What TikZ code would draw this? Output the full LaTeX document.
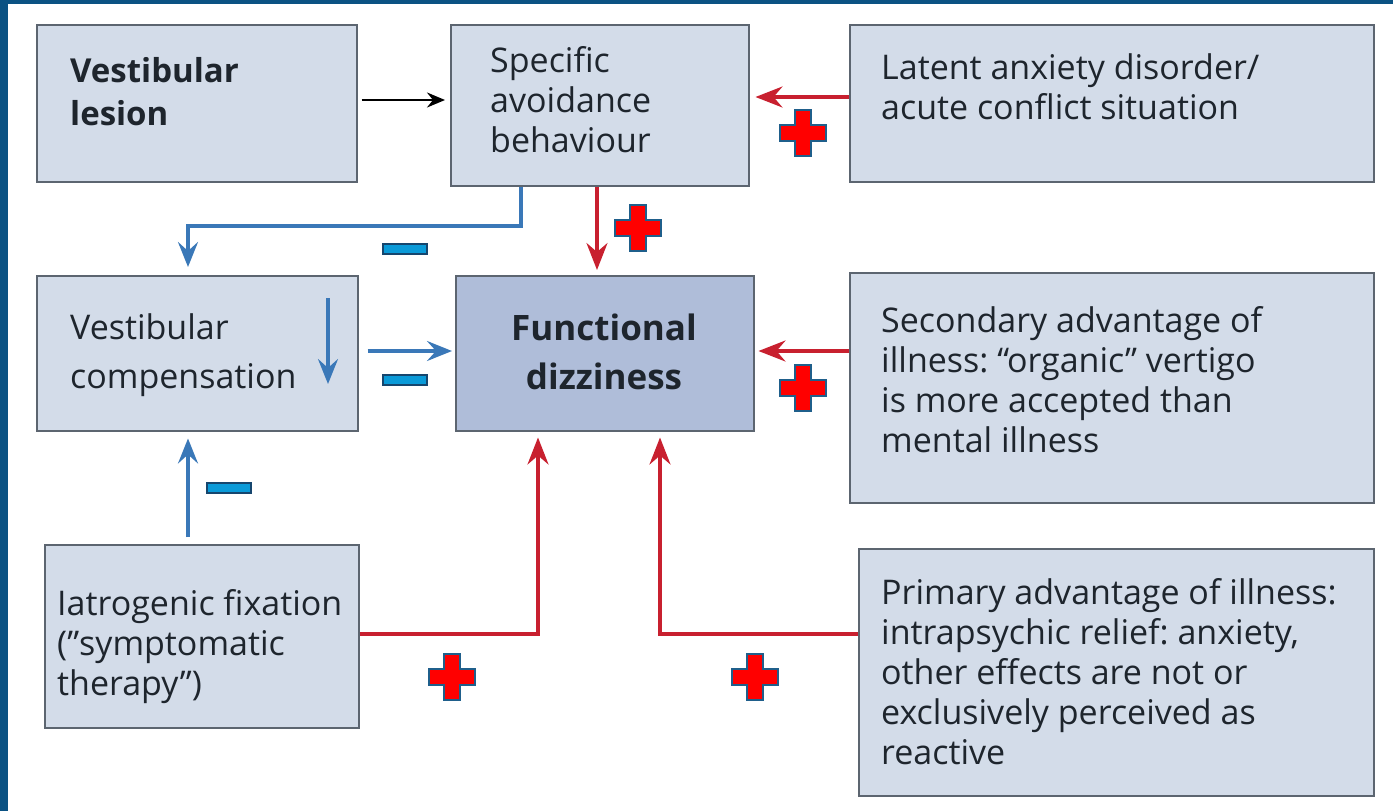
\documentclass[tikz,border=0pt]{standalone}
\usepackage{fontspec}
\setmainfont{Open Sans}
\frenchspacing
\usetikzlibrary{arrows.meta}
\definecolor{framec}{HTML}{0B5283}
\definecolor{boxfill}{HTML}{D3DCE9}
\definecolor{boxdraw}{HTML}{5C6570}
\definecolor{fdfill}{HTML}{AFBDD9}
\definecolor{redarr}{HTML}{C8202F}
\definecolor{bluarr}{HTML}{3A78B8}
\definecolor{txtc}{HTML}{1E252D}
\definecolor{plusred}{HTML}{FF0000}
\definecolor{plusedge}{HTML}{1F5F8B}
\definecolor{minusfill}{HTML}{0A9AD8}
\definecolor{minusedge}{HTML}{16466E}
\tikzset{
  box/.style={draw=boxdraw, fill=boxfill, line width=1.5pt, anchor=north west, inner sep=0pt},
  txt/.style={anchor=base west, align=left, inner sep=0pt, text=txtc, font=\fontsize{34}{40}\selectfont},
  redline/.style={draw=redarr, line width=3.2pt, -{Stealth[length=27,width=21,inset=9]}},
  blueline/.style={draw=bluarr, line width=3.2pt, -{Stealth[length=25,width=20,inset=9]}},
  blackline/.style={draw=black, line width=2.4pt, -{Stealth[length=18,width=15,inset=6]}},
  plussign/.pic={\filldraw[fill=plusred, draw=plusedge, line width=1.5pt]
     (-8,-23) -- (8,-23) -- (8,-8) -- (23,-8) -- (23,8) -- (8,8) -- (8,23) -- (-8,23) -- (-8,8) -- (-23,8) -- (-23,-8) -- (-8,-8) -- cycle;},
  minussign/.pic={\filldraw[fill=minusfill, draw=minusedge, line width=1.5pt] (-22,-5) rectangle (22,5);}
}
\begin{document}
\begin{tikzpicture}[x=1pt,y=-1pt]
\useasboundingbox (0,0) rectangle (1393,811);
\fill[framec] (0,0) rectangle (1393,811);
\fill[white] (8,4) rectangle (1393,811);

% boxes
\node[box, minimum width=320, minimum height=157] (les) at (36,24) {};
\node[box, minimum width=298, minimum height=161] (avo) at (450,24) {};
\node[box, minimum width=524, minimum height=157] (lat) at (849,24) {};
\node[box, minimum width=321, minimum height=155] (vc) at (36,275) {};
\node[box, fill=fdfill, minimum width=298, minimum height=155] (fd) at (455,275) {};
\node[box, minimum width=524, minimum height=230] (sec) at (849,272) {};
\node[box, minimum width=314, minimum height=183] (iat) at (44,544) {};
\node[box, minimum width=515, minimum height=247] (pri) at (858,548) {};

% texts (anchor = baseline of last line)
\node[txt, font=\fontsize{33}{43}\selectfont\bfseries] (tles) at (70,125) {Vestibular\\lesion};
\node[txt] (tavo) at (490,152) {Specific\\avoidance\\behaviour};
\node[txt] (tlat) at (881,119) {Latent anxiety disorder/\\acute conflict situation};
\node[txt, font=\fontsize{34}{49}\selectfont] (tvc) at (70,388) {Vestibular\\compensation};
\node[txt, anchor=base, align=center, font=\fontsize{35}{49}\selectfont\bfseries] (tfd) at (604,389) {Functional\\dizziness};
\node[txt] (tsec) at (881,452) {Secondary advantage of\\illness: “organic” vertigo\\is more accepted than\\mental illness};
\node[txt] (tiat) at (57,695) {Iatrogenic fixation\\(”symptomatic\\therapy”)};
\node[txt] (tpri) at (881,764) {Primary advantage of illness:\\intrapsychic relief: anxiety,\\other effects are not or\\exclusively perceived as\\reactive};

% connectors
\coordinate (vcdownA) at (328,298);
\coordinate (vcdownB) at (328,384);
\draw[blueline] (vcdownA) -- (vcdownB);

\draw[blackline, shorten <=4, shorten >=5] (les.east |- 0,100) -- (avo.west |- 0,100);
\draw[redline, shorten >=6] (lat.west |- 0,97) -- (avo.east |- 0,97);
\draw[blueline, shorten >=8] (avo.south -| 521,0) -- (521,226) -| (vc.north -| 188,0);
\draw[redline, shorten >=5] (avo.south -| 597,0) -- (fd.north -| 597,0);
\draw[blueline, shorten <=9, shorten >=3] (vc.east |- 0,351) -- (fd.west |- 0,351);
\draw[redline, shorten >=4] (sec.west |- 0,351) -- (fd.east |- 0,351);
\draw[blueline, shorten <=7, shorten >=7] (iat.north -| 188,0) -- (vc.south -| 188,0);
\draw[redline, shorten >=6] (iat.east |- 0,634) -| (fd.south -| 538,0);
\draw[redline, shorten >=6] (pri.west |- 0,634) -| (fd.south -| 660,0);

% signs
\pic at (803,133) {plussign};
\pic at (638,228) {plussign};
\pic at (803,388) {plussign};
\pic at (452,677) {plussign};
\pic at (755,677) {plussign};
\pic at (405,249) {minussign};
\pic at (405,380) {minussign};
\pic at (229,488) {minussign};
\end{tikzpicture}
\end{document}
